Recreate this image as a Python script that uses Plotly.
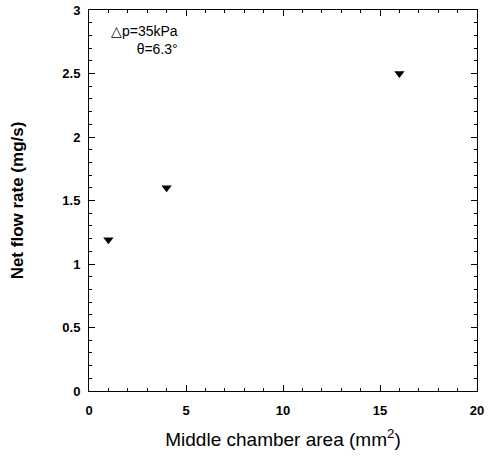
import plotly.graph_objects as go

area = [1, 4, 16]
flow = [1.19, 1.60, 2.50]
x_ticks = [0, 5, 10, 15, 20]
y_ticks = [0, 0.5, 1, 1.5, 2, 2.5, 3]
y_tick_labels = ["0", "0.5", "1", "1.5", "2", "2.5", "3"]

fig = go.Figure()
fig.add_trace(go.Scatter(
    x=area, y=flow, mode="markers",
    marker=dict(symbol="triangle-down", size=9, color="black"),
    showlegend=False,
))

axis_common = dict(
    showline=True, linecolor="black", linewidth=1, mirror="ticks",
    ticks="inside", ticklen=6, tickwidth=1, tickcolor="black",
    showgrid=False, zeroline=False, ticklabeloverflow="allow", automargin=False,
    tickfont=dict(family="Liberation Sans, Arial", size=13, color="black", weight="bold"),
)

fig.update_xaxes(
    range=[0, 20], tickvals=x_ticks, ticktext=[str(v) for v in x_ticks],
    minor=dict(ticks="inside", ticklen=3, dtick=1, tickcolor="black", showgrid=False),
    ticklabelstandoff=7,
    title=dict(text="Middle chamber area (mm<sup>2</sup>)", standoff=16,
               font=dict(family="Liberation Sans, Arial", size=19, color="black")),
    **axis_common,
)
fig.update_yaxes(
    range=[0, 3], tickvals=y_ticks, ticktext=y_tick_labels,
    minor=dict(ticks="inside", ticklen=3, dtick=0.1, tickcolor="black", showgrid=False),
    ticklabelstandoff=5,
    title=dict(text="<b>Net flow rate (mg/s)</b>", standoff=34,
               font=dict(family="Liberation Sans, Arial", size=17, color="black")),
    **axis_common,
)

fig.add_annotation(
    x=4.7, y=2.76, xref="x", yref="y", xanchor="right",
    text="△p=35kPa<br>θ=6.3°", showarrow=False, align="right",
    font=dict(family="Liberation Sans, Arial", size=14, color="black"),
)

fig.update_layout(
    width=489, height=460,
    margin=dict(l=89, r=12, t=10, b=69),
    plot_bgcolor="white", paper_bgcolor="white",
)

fig.write_html("out.html", config={"displayModeBar": False},
               post_script="document.body.style.margin='0';")
